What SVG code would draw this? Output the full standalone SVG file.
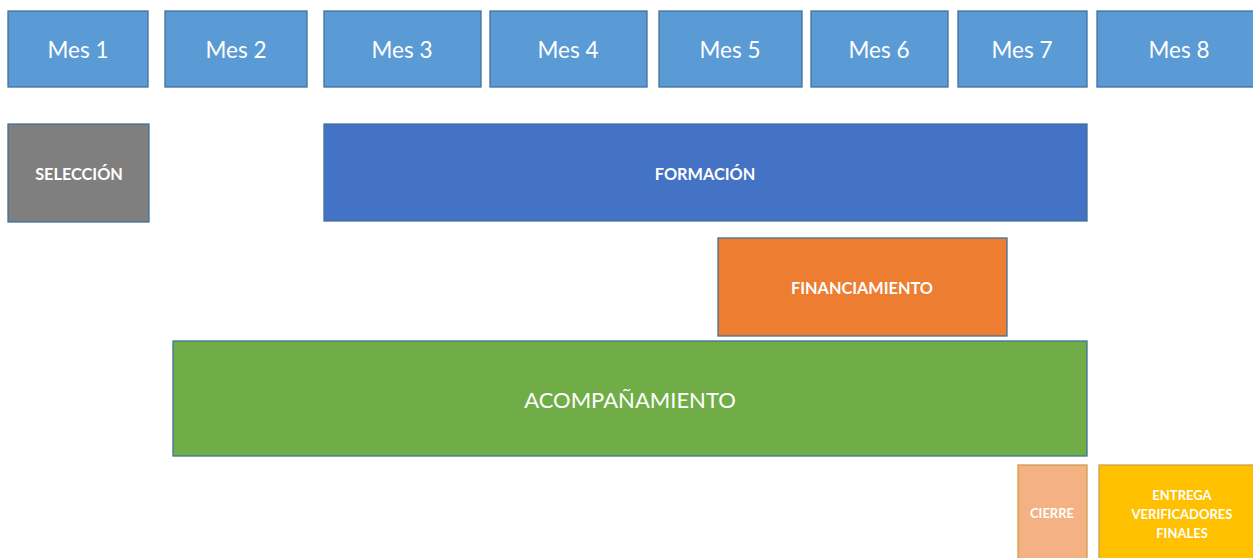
<svg xmlns="http://www.w3.org/2000/svg" width="1253" height="558" viewBox="0 0 1253 558">
<style>
.mes{fill:#5B9BD5;stroke:#41719C;stroke-width:1.3}
.bar{stroke:#41719C;stroke-width:1.3}
.t{font-family:Lato,"Open Sans","Liberation Sans",sans-serif;fill:#FFFFFF;text-anchor:middle;dominant-baseline:central}
.m{font-size:22.5px}
.b{font-size:16.3px;font-weight:bold}
.s{font-size:13px;font-weight:bold}
</style>
<rect width="1253" height="558" fill="#FFFFFF"/>
<g id="mes1"><rect class="mes" x="8" y="11" width="140" height="76"/><text class="t m" x="78" y="49">Mes 1</text></g>
<g id="mes2"><rect class="mes" x="165" y="11" width="142" height="76"/><text class="t m" x="236" y="49">Mes 2</text></g>
<g id="mes3"><rect class="mes" x="324" y="11" width="157" height="76"/><text class="t m" x="402" y="49">Mes 3</text></g>
<g id="mes4"><rect class="mes" x="490" y="11" width="157" height="76"/><text class="t m" x="568" y="49">Mes 4</text></g>
<g id="mes5"><rect class="mes" x="659" y="11" width="143" height="76"/><text class="t m" x="730" y="49">Mes 5</text></g>
<g id="mes6"><rect class="mes" x="811" y="11" width="137" height="76"/><text class="t m" x="879" y="49">Mes 6</text></g>
<g id="mes7"><rect class="mes" x="958" y="11" width="129" height="76"/><text class="t m" x="1022" y="49">Mes 7</text></g>
<g id="mes8"><rect class="mes" x="1097" y="11" width="160" height="76"/><text class="t m" x="1179" y="49">Mes 8</text></g>
<g id="seleccion"><rect class="bar" x="8" y="124" width="141" height="98" fill="#7F7F7F"/><text class="t b" x="79" y="173">SELECCIÓN</text></g>
<g id="formacion"><rect class="bar" x="324" y="124" width="763" height="97" fill="#4472C4"/><text class="t b" x="705" y="173">FORMACIÓN</text></g>
<g id="financiamiento"><rect class="bar" x="718" y="238" width="289" height="98" fill="#ED7D31"/><text class="t b" x="862" y="287">FINANCIAMIENTO</text></g>
<g id="acompanamiento"><rect class="bar" x="173" y="341" width="914" height="115" fill="#70AD47"/><text class="t" style="font-size:22px" x="630" y="399">ACOMPAÑAMIENTO</text></g>
<g id="cierre"><rect x="1018" y="465" width="69" height="100" fill="#F4B183" stroke="#C9A04A" stroke-width="1.3"/><text class="t s" x="1052" y="513">CIERRE</text></g>
<g id="entrega"><rect x="1099" y="465" width="160" height="100" fill="#FFC000" stroke="#C9A04A" stroke-width="1.3"/><text class="t s"><tspan x="1182" y="495">ENTREGA</tspan><tspan x="1182" y="514">VERIFICADORES</tspan><tspan x="1182" y="533">FINALES</tspan></text></g>
<g id="connectors"></g>
</svg>
